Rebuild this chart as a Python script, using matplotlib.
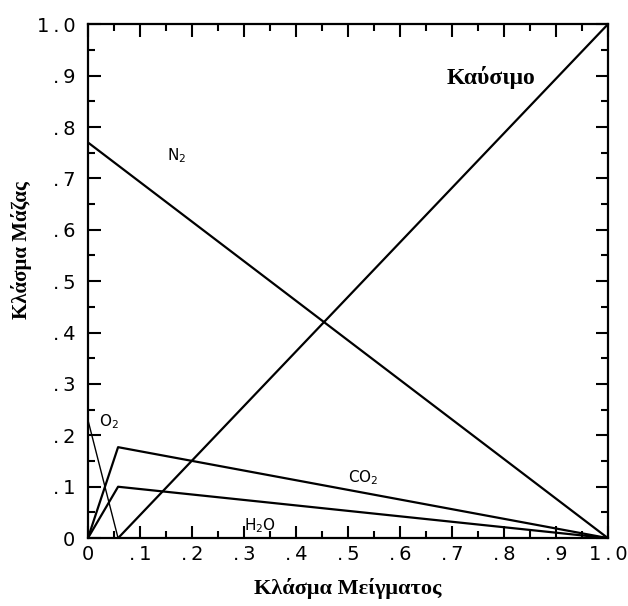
import numpy as np
import matplotlib.pyplot as plt
from matplotlib.ticker import MultipleLocator, FixedLocator

# mixture fraction breakpoints (stoichiometric point ~0.058)
mix = [0.0, 0.058, 1.0]
fuel = [0.0, 0.0, 1.0]
n2 = [0.77, None, 0.0]
o2 = [0.23, 0.0]
co2 = [0.0, 0.177, 0.0]
h2o = [0.0, 0.10, 0.0]

tick_vals = [0, 0.1, 0.2, 0.3, 0.4, 0.5, 0.6, 0.7, 0.8, 0.9, 1.0]
tick_labels = ['0', '.\u20091', '.\u20092', '.\u20093', '.\u20094', '.\u20095',
               '.\u20096', '.\u20097', '.\u20098', '.\u20099', '1\u2009.\u20090']

fig = plt.figure(figsize=(6.28, 6.06), dpi=100)
ax = fig.add_axes([0.140, 0.112, 0.828, 0.848])

lw = 1.6
ax.plot(mix[1:], fuel[1:], color='black', lw=lw)
ax.plot([mix[0], mix[2]], [n2[0], n2[2]], color='black', lw=lw)
ax.plot(mix[:2], o2, color='black', lw=1.0)
ax.plot(mix, co2, color='black', lw=lw)
ax.plot(mix, h2o, color='black', lw=lw)

sans = 'DejaVu Sans'
serif = 'Liberation Serif'
ax.text(0.17, 0.745, r'N$_2$', family=sans, fontsize=11, ha='center', va='center')
ax.text(0.04, 0.226, r'O$_2$', family=sans, fontsize=11, ha='center', va='center')
ax.text(0.53, 0.117, r'CO$_2$', family=sans, fontsize=11, ha='center', va='center')
ax.text(0.33, 0.025, r'H$_2$O', family=sans, fontsize=11, ha='center', va='center')
ax.text(0.775, 0.897, 'Καύσιμο', family=serif, fontweight='bold', fontsize=17,
        ha='center', va='center')

ax.set_xlim(0, 1)
ax.set_ylim(0, 1)
for axis in (ax.xaxis, ax.yaxis):
    axis.set_major_locator(FixedLocator(tick_vals))
    axis.set_minor_locator(MultipleLocator(0.05))
ax.set_xticklabels(tick_labels, family=sans, fontsize=14)
ax.set_yticklabels(tick_labels, family=sans, fontsize=14)
ax.tick_params(which='both', direction='in', top=True, right=True, width=1.5)
ax.tick_params(which='major', length=9)
ax.tick_params(axis='x', which='major', pad=5)
ax.tick_params(axis='y', which='major', pad=9)
ax.tick_params(which='minor', length=5)
for s in ax.spines.values():
    s.set_linewidth(1.6)

ax.set_xlabel('Κλάσμα Μείγματος', family=serif, fontweight='bold', fontsize=16, labelpad=10)
ax.set_ylabel('Κλάσμα Μάζας', family=serif, fontweight='bold', fontsize=15,
              va='center')
ax.yaxis.set_label_coords(-0.127, 0.56)

fig.savefig('out.png', dpi=100, facecolor='white')
